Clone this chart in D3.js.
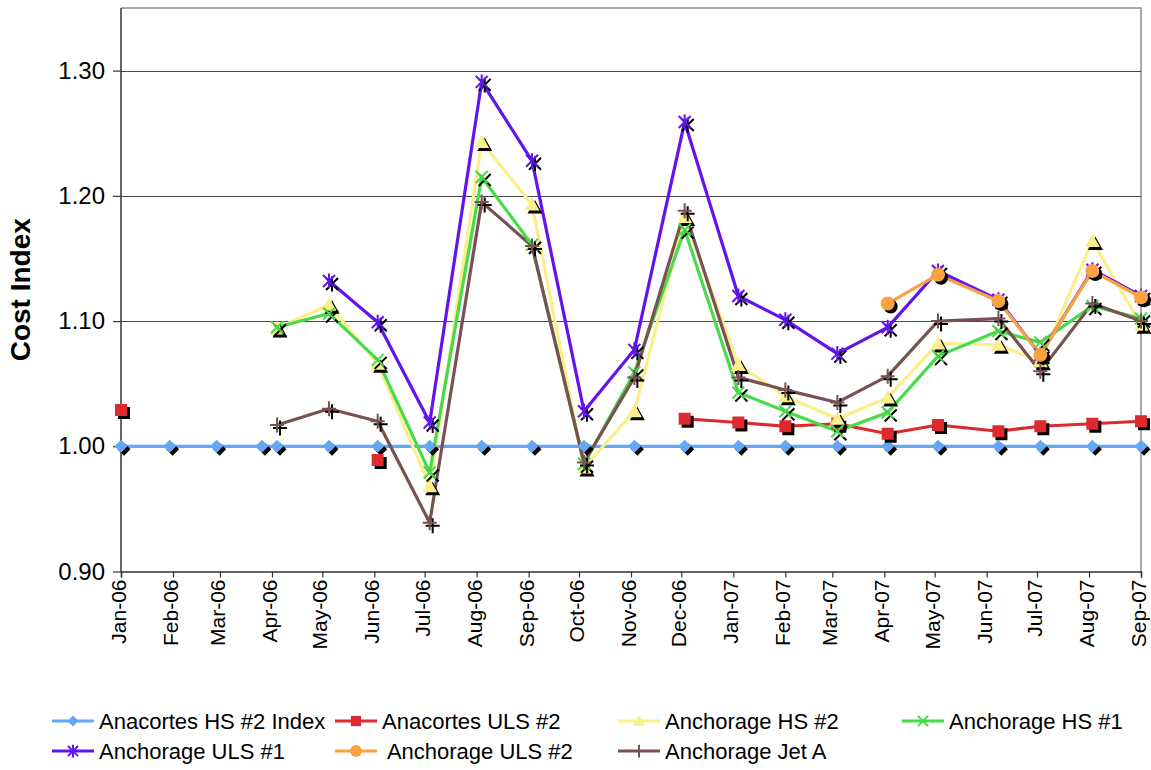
<!DOCTYPE html>
<html>
<head>
<meta charset="utf-8">
<script src="https://cdn.jsdelivr.net/npm/d3@7"></script>
<style>
  html, body { margin: 0; padding: 0; background: #fff; }
  svg { display: block; font-family: "Liberation Sans", Arial, sans-serif; }
  text { white-space: pre; }
</style>
</head>
<body>
<svg id="chart" width="1151" height="770"></svg>
<script>
// Observation dates (monthly readings)
const obsDates = [
  "2006-01-01", "2006-01-30", "2006-02-27", "2006-03-26", "2006-04-04",
  "2006-05-05", "2006-06-03", "2006-07-04", "2006-08-04", "2006-09-03",
  "2006-10-04", "2006-11-03", "2006-12-03", "2007-01-04", "2007-02-01",
  "2007-03-04", "2007-04-03", "2007-05-03", "2007-06-08", "2007-07-03",
  "2007-08-03", "2007-09-01"
];

// Cost index per series (null = no reading)
const anacortesHS2Index = [1.00, 1.00, 1.00, 1.00, 1.00, 1.00, 1.00, 1.00, 1.00, 1.00, 1.00,
                           1.00, 1.00, 1.00, 1.00, 1.00, 1.00, 1.00, 1.00, 1.00, 1.00, 1.00];
const anacortesULS2 = [1.029, null, null, null, null, null, 0.989, null, null, null, null,
                       null, 1.022, 1.019, 1.016, 1.018, 1.010, 1.017, 1.012, 1.016, 1.018, 1.020];
const anchorageHS2 = [null, null, null, null, 1.094, 1.113, 1.066, 0.968, 1.243, 1.193, 0.983,
                      1.028, 1.183, 1.065, 1.040, 1.022, 1.039, 1.082, 1.081, 1.068, 1.164, 1.097];
const anchorageHS1 = [null, null, null, null, 1.095, 1.106, 1.069, 0.979, 1.215, 1.161, 0.986,
                      1.059, 1.173, 1.043, 1.028, 1.012, 1.027, 1.072, 1.092, 1.083, 1.112, 1.102];
const anchorageULS1 = [null, null, null, null, null, 1.132, 1.099, 1.019, 1.291, 1.228, 1.028,
                       1.077, 1.259, 1.120, 1.101, 1.074, 1.095, 1.140, 1.117, 1.073, 1.141, 1.120];
const anchorageULS2 = [null, null, null, null, null, null, null, null, null, null, null,
                       null, null, null, null, null, 1.114, 1.137, 1.116, 1.073, 1.140, 1.119];
const anchorageJetA = [null, null, null, null, 1.017, 1.030, 1.020, 0.939, 1.195, 1.160, 0.987,
                       1.055, 1.188, 1.055, 1.045, 1.035, 1.056, 1.100, 1.102, 1.060, 1.114, 1.100];

const seriesNames = ["Anacortes HS #2 Index", "Anacortes ULS #2", "Anchorage HS #2", "Anchorage HS #1",
                     "Anchorage ULS #1", " Anchorage ULS #2", "Anchorage Jet A"];

// Axis labels
const monthLabels = ["Jan-06", "Feb-06", "Mar-06", "Apr-06", "May-06", "Jun-06", "Jul-06",
                     "Aug-06", "Sep-06", "Oct-06", "Nov-06", "Dec-06", "Jan-07", "Feb-07",
                     "Mar-07", "Apr-07", "May-07", "Jun-07", "Jul-07", "Aug-07", "Sep-07"];
const yTicks = [0.90, 1.00, 1.10, 1.20, 1.30];
const yAxisTitle = "Cost Index";

// ---- styling ----
const seriesValues = [anacortesHS2Index, anacortesULS2, anchorageHS2, anchorageHS1,
                      anchorageULS1, anchorageULS2, anchorageJetA];
const seriesColors = ["#62a8f6", "#dc2a2e", "#fbef8c", "#47dc47", "#6312f0", "#f9a244", "#7a5152"];
const seriesMarkers = ["diamond", "square", "triangle", "cross", "asterisk", "circle", "plus"];

const parseDay = d3.utcParse("%Y-%m-%d");
const parseMonth = d3.utcParse("%b-%y");
const dates = obsDates.map(parseDay);
const tickDates = monthLabels.map(parseMonth);

const plot = { left: 121, right: 1141, top: 8, bottom: 571.5 };

const x = d3.scaleUtc()
  .domain([tickDates[0], tickDates[tickDates.length - 1]])
  .range([plot.left, plot.right]);
const y = d3.scaleLinear()
  .domain([0.90, 1.35])
  .range([plot.bottom, plot.top]);

const svg = d3.select("#chart");

// plot frame (top/right)
svg.append("path")
  .attr("d", `M${plot.left},${plot.top}H${plot.right}V${plot.bottom}`)
  .attr("fill", "none").attr("stroke", "#8c8c8c").attr("stroke-width", 1.5);

// horizontal grid lines
svg.append("g")
  .selectAll("line")
  .data(yTicks.filter(t => t > 0.9))
  .join("line")
  .attr("x1", plot.left).attr("x2", plot.right)
  .attr("y1", d => Math.round(y(d)) + 0.5).attr("y2", d => Math.round(y(d)) + 0.5)
  .attr("stroke", "#4a4a4a").attr("stroke-width", 1.2);

// y axis
const yAxis = svg.append("g")
  .attr("transform", `translate(${plot.left},0)`)
  .call(d3.axisLeft(y).tickValues(yTicks).tickFormat(d3.format(".2f")).tickSizeOuter(0).tickSize(8).tickPadding(8));
yAxis.select(".domain").attr("stroke", "#333").attr("stroke-width", 1.5)
  .attr("d", `M0,${plot.top}V${plot.bottom}`);
yAxis.selectAll(".tick line").attr("stroke", "#333").attr("stroke-width", 1.2);
yAxis.selectAll(".tick text")
  .attr("font-size", 24).attr("fill", "#000")
  .attr("font-family", "'Liberation Sans', Arial, sans-serif");

// x axis
const xAxis = svg.append("g")
  .attr("transform", `translate(0,${plot.bottom})`)
  .call(d3.axisBottom(x).tickValues(tickDates).tickFormat((d, i) => monthLabels[i]).tickSizeOuter(0).tickSize(6));
xAxis.select(".domain").attr("stroke", "#333").attr("stroke-width", 1.5);
xAxis.selectAll(".tick line").attr("stroke", "#333").attr("stroke-width", 1.2);
xAxis.selectAll(".tick text")
  .attr("font-size", 21).attr("fill", "#000")
  .attr("font-family", "'Liberation Sans', Arial, sans-serif")
  .attr("text-anchor", "end")
  .attr("transform", "rotate(-90)")
  .attr("x", -8).attr("y", -3).attr("dy", "0.36em");

// y axis title
svg.append("text")
  .attr("transform", `translate(30,${(plot.top + plot.bottom) / 2}) rotate(-90)`)
  .attr("text-anchor", "middle")
  .attr("font-size", 28).attr("font-weight", "bold")
  .text(yAxisTitle);

// ---- marker shapes ----
function drawMarker(g, type, color, scale) {
  const s = scale || 1;
  switch (type) {
    case "diamond":
      g.append("path").attr("d", `M0,${-6.5*s}L${6.5*s},0L0,${6.5*s}L${-6.5*s},0Z`).attr("fill", color);
      break;
    case "square":
      g.append("rect").attr("x", -6*s).attr("y", -6*s).attr("width", 12*s).attr("height", 12*s).attr("fill", color);
      break;
    case "triangle":
      g.append("path").attr("d", `M0,${-7.5*s}L${7.5*s},${6*s}L${-7.5*s},${6*s}Z`).attr("fill", color);
      break;
    case "circle":
      g.append("circle").attr("r", 7*s).attr("fill", color);
      break;
    case "cross":
      g.append("path").attr("d", `M${-6*s},${-6*s}L${6*s},${6*s}M${-6*s},${6*s}L${6*s},${-6*s}`)
        .attr("stroke", color).attr("stroke-width", 2).attr("fill", "none");
      break;
    case "asterisk":
      g.append("path").attr("d", `M${-6*s},${-6*s}L${6*s},${6*s}M${-6*s},${6*s}L${6*s},${-6*s}M0,${-7.5*s}L0,${7.5*s}`)
        .attr("stroke", color).attr("stroke-width", 2).attr("fill", "none");
      break;
    case "plus":
      g.append("path").attr("d", `M${-7*s},0L${7*s},0M0,${-7.5*s}L0,${7.5*s}`)
        .attr("stroke", color).attr("stroke-width", 2).attr("fill", "none");
      break;
  }
}

// ---- series lines ----
const line = d3.line()
  .defined(d => d.v != null)
  .x(d => x(d.date))
  .y(d => y(d.v));

const seriesData = seriesValues.map(vals => vals.map((v, i) => ({ date: dates[i], v })));

const linesG = svg.append("g");
seriesData.forEach((pts, si) => {
  linesG.append("path")
    .datum(pts)
    .attr("d", line)
    .attr("fill", "none")
    .attr("stroke", seriesColors[si])
    .attr("stroke-width", 3.2)
    .attr("stroke-linejoin", "round");
});

// ---- markers with drop shadow ----
const markersG = svg.append("g");
seriesData.forEach((pts, si) => {
  pts.filter(d => d.v != null).forEach(d => {
    const px = x(d.date), py = y(d.v);
    const sh = markersG.append("g").attr("transform", `translate(${px + 3},${py + 3})`);
    drawMarker(sh, seriesMarkers[si], "#000");
    const mk = markersG.append("g").attr("transform", `translate(${px},${py})`);
    drawMarker(mk, seriesMarkers[si], seriesColors[si]);
  });
});

// ---- legend ----
const legendCols = [52, 335, 618, 902];
const legendRows = [721, 751];
const legend = svg.append("g");
seriesNames.forEach((name, i) => {
  const lx = legendCols[i % 4], ly = legendRows[Math.floor(i / 4)];
  const g = legend.append("g").attr("transform", `translate(${lx},${ly})`);
  g.append("line").attr("x1", 0).attr("x2", 42).attr("y1", 0).attr("y2", 0)
    .attr("stroke", seriesColors[i]).attr("stroke-width", 3.2);
  const m = g.append("g").attr("transform", "translate(21,0)");
  drawMarker(m, seriesMarkers[i], seriesColors[i], 0.85);
  g.append("text")
    .attr("x", 47).attr("y", 0).attr("dy", "0.36em")
    .attr("font-size", 22)
    .text(name);
});
</script>
</body>
</html>
